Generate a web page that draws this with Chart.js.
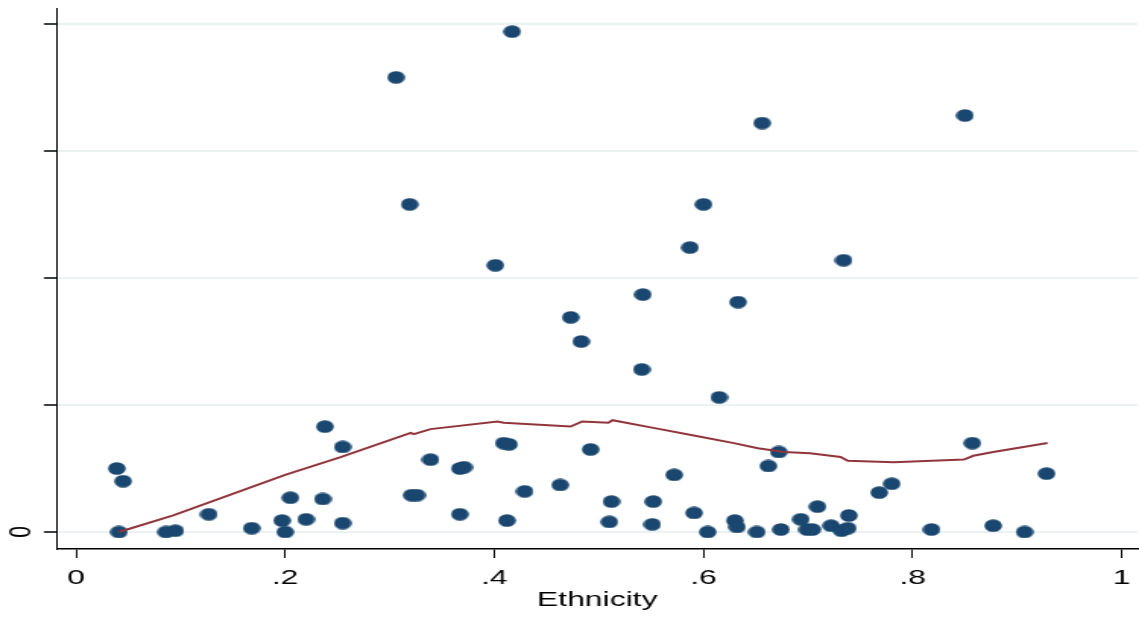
<!DOCTYPE html>
<html>
<head>
<meta charset="utf-8">
<script src="https://cdn.jsdelivr.net/npm/chart.js@4"></script>
<style>
  html, body { margin: 0; padding: 0; background: #fff; overflow: hidden; }
  /* the reference is a horizontally stretched Stata graph, so draw narrow and stretch */
  #wrap { width: 750px; height: 623px; transform: scaleX(1.5187); transform-origin: 0 0; }
</style>
</head>
<body>
<div id="wrap"><canvas id="myCanvas" width="750" height="623"></canvas></div>
<script>
// scatter points (Ethnicity, outcome)
var ethX = [0.039, 0.045, 0.041, 0.086, 0.095, 0.127, 0.168, 0.197, 0.200, 0.205,
            0.220, 0.236, 0.238, 0.255, 0.255, 0.306, 0.319, 0.321, 0.326, 0.339,
            0.367, 0.367, 0.371, 0.401, 0.409, 0.414, 0.412, 0.417, 0.429, 0.463,
            0.473, 0.483, 0.492, 0.510, 0.512, 0.542, 0.541, 0.551, 0.552, 0.572,
            0.587, 0.591, 0.600, 0.604, 0.615, 0.630, 0.632, 0.633, 0.651, 0.656,
            0.662, 0.672, 0.674, 0.693, 0.699, 0.704, 0.709, 0.722, 0.732, 0.738,
            0.734, 0.739, 0.768, 0.780, 0.818, 0.850, 0.857, 0.877, 0.907, 0.928];
var ethY = [0.50, 0.40, 0.00, 0.00, 0.01, 0.14, 0.03, 0.09, 0.00, 0.27,
            0.10, 0.26, 0.83, 0.67, 0.07, 3.58, 2.58, 0.29, 0.29, 0.57,
            0.14, 0.50, 0.51, 2.10, 0.70, 0.69, 0.09, 3.94, 0.32, 0.37,
            1.69, 1.50, 0.65, 0.08, 0.24, 1.87, 1.28, 0.06, 0.24, 0.45,
            2.24, 0.15, 2.58, 0.00, 1.06, 0.09, 0.04, 1.81, 0.00, 3.22,
            0.52, 0.63, 0.02, 0.10, 0.02, 0.02, 0.20, 0.05, 0.01, 0.03,
            2.14, 0.13, 0.31, 0.38, 0.02, 3.28, 0.70, 0.05, 0.00, 0.46];

// lowess smoother
var lowX = [0.041, 0.093, 0.200, 0.253, 0.320, 0.323, 0.339, 0.403, 0.409, 0.473,
            0.484, 0.509, 0.513, 0.552, 0.597, 0.629, 0.652, 0.677, 0.702, 0.731,
            0.738, 0.782, 0.849, 0.858, 0.877, 0.929];
var lowY = [0.00, 0.13, 0.45, 0.59, 0.78, 0.77, 0.81, 0.87, 0.86, 0.83,
            0.87, 0.86, 0.88, 0.82, 0.75, 0.70, 0.66, 0.63, 0.62, 0.59,
            0.56, 0.55, 0.57, 0.60, 0.63, 0.70];

var xTicks = [0, 0.2, 0.4, 0.6, 0.8, 1];
var xTickLabels = ['0', '.2', '.4', '.6', '.8', '1'];
var yTicks = [0, 1, 2, 3, 4];
var yTickLabels = ['0', '', '', '', ''];

var scatterPts = [];
for (var i in ethX) scatterPts.push({x: ethX[i], y: ethY[i]});
var lowPts = [];
for (var j in lowX) lowPts.push({x: lowX[j], y: lowY[j]});

// marker (gets stretched with the page)
var dot = document.createElement('canvas');
dot.width = 12; dot.height = 13;
var dctx = dot.getContext('2d');
dctx.fillStyle = '#1a476f';
dctx.beginPath();
dctx.ellipse(6, 6.5, 5.8, 6.35, 0, 0, Math.PI * 2);
dctx.fill();

var fontFam = "'Liberation Sans', Arial, sans-serif";

function noPad(s) {
  s.paddingTop = 0; s.paddingBottom = 0; s.paddingLeft = 0; s.paddingRight = 0;
}

var ctx = document.getElementById('myCanvas');
var chart = new Chart(ctx, {
  type: 'scatter',
  data: {
    datasets: [
      {
        type: 'line',
        label: 'lowess',
        data: lowPts,
        borderColor: '#90353b',
        borderWidth: 2,
        pointRadius: 0,
        fill: false,
        tension: 0,
        order: 0
      },
      {
        label: 'outcome',
        data: scatterPts,
        pointStyle: dot,
        pointRadius: 6,
        backgroundColor: '#1a476f',
        order: 1
      }
    ]
  },
  options: {
    responsive: false,
    animation: false,
    devicePixelRatio: 1,
    layout: { autoPadding: false, padding: { top: 8, right: 1, left: 0, bottom: 0 } },
    plugins: { legend: { display: false }, tooltip: { enabled: false } },
    scales: {
      x: {
        type: 'linear',
        min: -0.0182,
        max: 1.015,
        afterBuildTicks: function(s) { s.ticks = xTicks.map(function(v){ return {value: v}; }); },
        afterFit: function(s) { s.height = 74; noPad(s); },
        ticks: {
          autoSkip: false,
          maxRotation: 0,
          padding: 8,
          color: '#000',
          font: { family: fontFam, size: 21 },
          callback: function(v, idx) { return xTickLabels[idx]; }
        },
        grid: { drawOnChartArea: false, tickLength: 9, tickColor: '#000', tickWidth: 1 },
        border: { color: '#000', width: 1.5 },
        title: {
          display: true,
          text: 'Ethnicity',
          color: '#000',
          font: { family: fontFam, size: 21, lineHeight: 1 },
          padding: { top: 0, bottom: 12 }
        }
      },
      y: {
        type: 'linear',
        min: -0.134,
        max: 4.126,
        afterBuildTicks: function(s) { s.ticks = yTicks.map(function(v){ return {value: v}; }); },
        afterFit: function(s) { s.width = 37.5; noPad(s); },
        ticks: {
          autoSkip: false,
          minRotation: 90,
          maxRotation: 90,
          crossAlign: 'center',
          padding: 9,
          color: '#000',
          font: { family: fontFam, size: 21 },
          callback: function(v, idx) { return yTickLabels[idx]; }
        },
        grid: { color: '#eaf2f3', lineWidth: 2, tickLength: 8.6, tickColor: '#000', tickWidth: 1.5 },
        border: { color: '#000', width: 1 }
      }
    }
  }
});
</script>
</body>
</html>
